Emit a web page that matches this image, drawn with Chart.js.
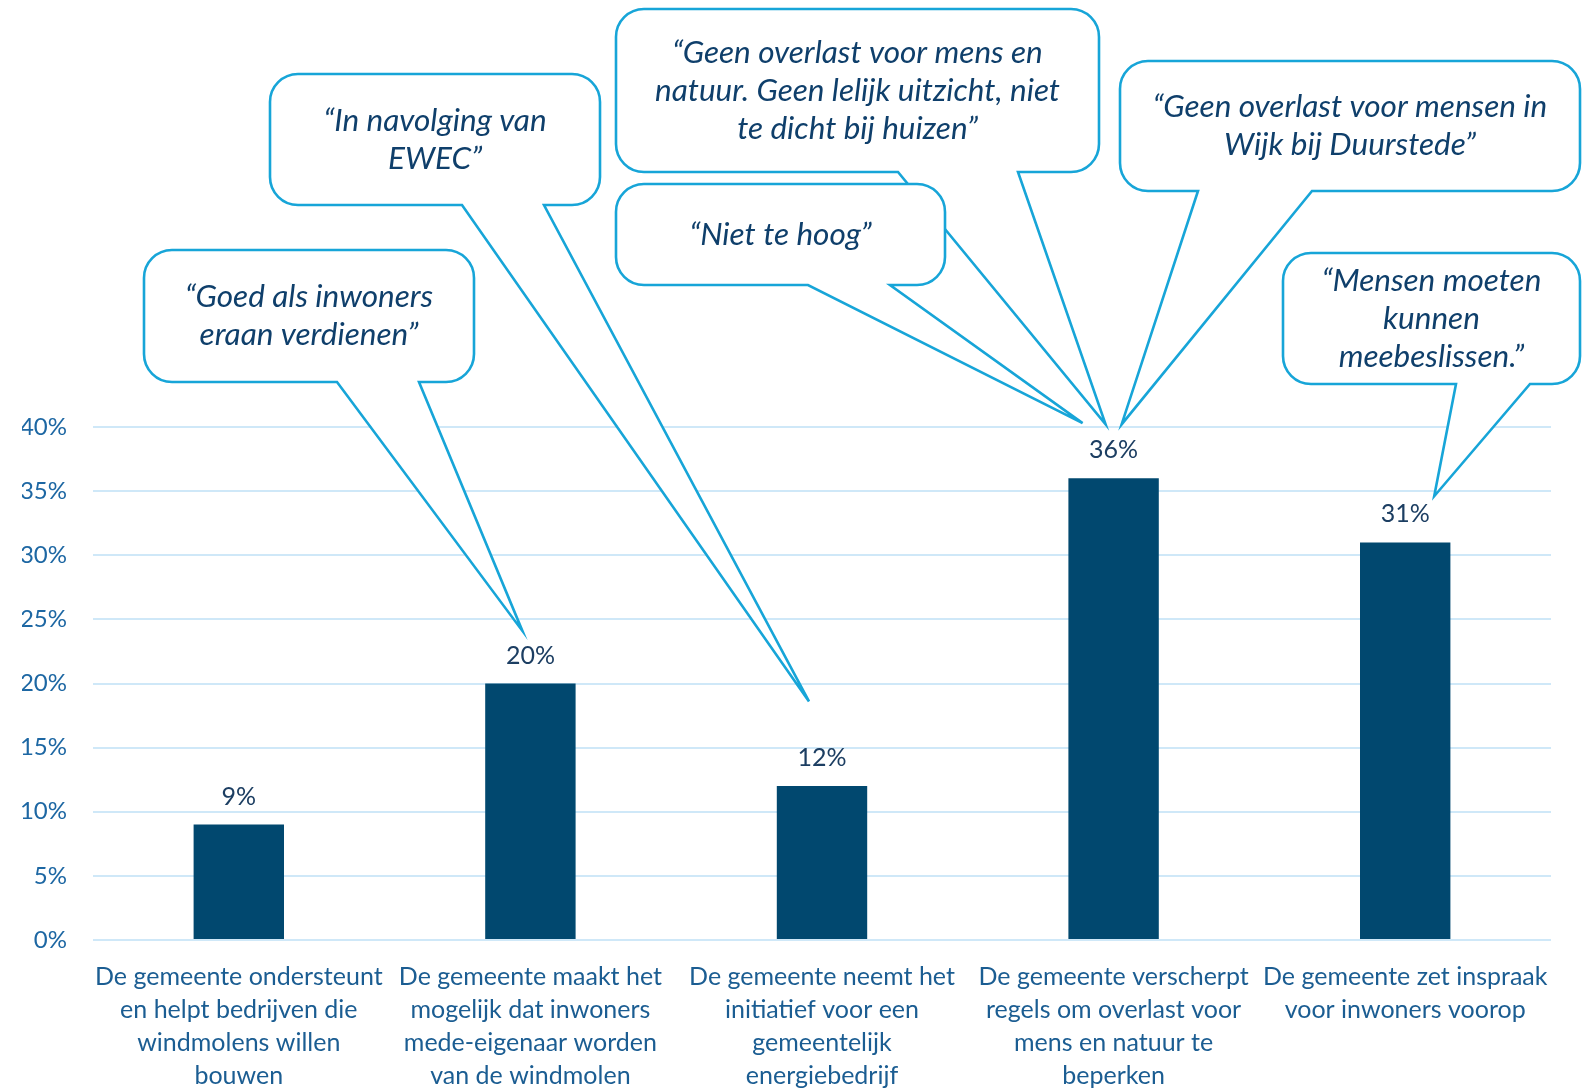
<!DOCTYPE html>
<html>
<head>
<meta charset="utf-8">
<script src="https://cdn.jsdelivr.net/npm/chart.js@4.4.0/dist/chart.umd.min.js"></script>
<style>
  html, body { margin: 0; padding: 0; background: #ffffff; }
  #wrap { width: 1590px; height: 1090px; position: relative; }
</style>
</head>
<body>
<div id="wrap"><canvas id="barChart"></canvas></div>
<script>
// data
const categories = [
    ['De gemeente ondersteunt', 'en helpt bedrijven die', 'windmolens willen', 'bouwen'],
    ['De gemeente maakt het', 'mogelijk dat inwoners', 'mede-eigenaar worden', 'van de windmolen'],
    ['De gemeente neemt het', 'initiatief voor een', 'gemeentelijk', 'energiebedrijf'],
    ['De gemeente verscherpt', 'regels om overlast voor', 'mens en natuur te', 'beperken'],
    ['De gemeente zet inspraak', 'voor inwoners voorop']
];
const values = [9, 20, 12, 36, 31];
const yMin = 0;
const yMax = 40;
const yStep = 5;

// quotes and which bar each one points at
const quotes = [
    ['\u201CGoed als inwoners', 'eraan verdienen\u201D'],
    ['\u201CIn navolging van', 'EWEC\u201D'],
    ['\u201CGeen overlast voor mens en', 'natuur. Geen lelijk uitzicht, niet', 'te dicht bij huizen\u201D'],
    ['\u201CNiet te hoog\u201D'],
    ['\u201CGeen overlast voor mensen in', 'Wijk bij Duurstede\u201D'],
    ['\u201CMensen moeten', 'kunnen', 'meebeslissen.\u201D']
];
const quoteTargets = [1, 2, 3, 3, 3, 4];
const quoteTipLevels = [24.1, 18.6, 40.2, 40.3, 40.2, 34.6];

// callout boxes (layout only): box rect + where the tail leaves the bottom edge
const calloutBoxes = [
    { x: 144, y: 250, w: 330, h: 132, t1: 337, t2: 419, dx: -8 },
    { x: 270, y: 74, w: 330, h: 131, t1: 462, t2: 544, dx: -13 },
    { x: 616, y: 9, w: 483, h: 163, t1: 898, t2: 1018, dx: -8 },
    { x: 616, y: 184, w: 329, h: 101, t1: 808, t2: 890, dx: -31 },
    { x: 1120, y: 61, w: 460, h: 130, t1: 1198, t2: 1312, dx: 8 },
    { x: 1283, y: 253, w: 297, h: 131, t1: 1456, t2: 1530, dx: 29 }
];

const FONT = 'Lato, "Noto Sans", sans-serif';

const valueLabels = {
    id: 'valueLabels',
    afterDatasetsDraw(chart) {
        const ctx = chart.ctx;
        const meta = chart.getDatasetMeta(0);
        ctx.save();
        ctx.font = '25px ' + FONT;
        ctx.fillStyle = '#1c3e62';
        ctx.textAlign = 'center';
        ctx.textBaseline = 'middle';
        meta.data.forEach((bar, i) => {
            ctx.fillText(values[i] + '%', bar.x, bar.y - 28);
        });
        ctx.restore();
    }
};

function calloutPath(ctx, b, tipX, tipY) {
    const r = 28;
    const x = b.x, y = b.y, w = b.w, h = b.h;
    ctx.beginPath();
    ctx.moveTo(x + r, y);
    ctx.lineTo(x + w - r, y);
    ctx.arcTo(x + w, y, x + w, y + r, r);
    ctx.lineTo(x + w, y + h - r);
    ctx.arcTo(x + w, y + h, x + w - r, y + h, r);
    ctx.lineTo(b.t2, y + h);
    ctx.lineTo(tipX, tipY);
    ctx.lineTo(b.t1, y + h);
    ctx.lineTo(x + r, y + h);
    ctx.arcTo(x, y + h, x, y + h - r, r);
    ctx.lineTo(x, y + r);
    ctx.arcTo(x, y, x + r, y, r);
    ctx.closePath();
}

const callouts = {
    id: 'callouts',
    afterDraw(chart) {
        const ctx = chart.ctx;
        const xs = chart.scales.x;
        const ys = chart.scales.y;
        ctx.save();
        quotes.forEach((lines, i) => {
            const b = calloutBoxes[i];
            const tipX = xs.getPixelForValue(quoteTargets[i]) + b.dx;
            const tipY = ys.getPixelForValue(quoteTipLevels[i]);
            calloutPath(ctx, b, tipX, tipY);
            ctx.fillStyle = '#ffffff';
            ctx.fill();
            ctx.lineWidth = 2.6;
            ctx.strokeStyle = '#17a5d8';
            ctx.lineJoin = 'miter';
            ctx.stroke();

            ctx.font = 'italic 31.5px ' + FONT;
            ctx.fillStyle = '#0f3f6b';
            ctx.textAlign = 'center';
            ctx.textBaseline = 'middle';
            const lh = 38;
            const cy = b.y + b.h / 2 - (lines.length - 1) * lh / 2;
            lines.forEach((t, k) => {
                ctx.fillText(t, b.x + b.w / 2, cy + k * lh);
            });
        });
        ctx.restore();
    }
};

const ctx = document.getElementById('barChart').getContext('2d');
const myChart = new Chart(ctx, {
    type: 'bar',
    data: {
        labels: categories,
        datasets: [{
            data: values,
            backgroundColor: '#01486f',
            categoryPercentage: 1,
            barPercentage: 0.31
        }]
    },
    options: {
        responsive: true,
        maintainAspectRatio: false,
        animation: false,
        layout: { padding: { left: 22, right: 39, top: 427, bottom: 0 } },
        plugins: {
            legend: { display: false },
            tooltip: { enabled: false }
        },
        scales: {
            x: {
                grid: { display: false, drawTicks: false },
                border: { display: false },
                ticks: {
                    color: '#1b5d92',
                    font: { family: FONT, size: 25, lineHeight: 1.32 },
                    maxRotation: 0,
                    autoSkip: false,
                    padding: 20
                },
                afterFit(scale) {
                    scale.paddingLeft = 0;
                    scale.paddingRight = 0;
                    scale.height = 150;
                }
            },
            y: {
                min: yMin,
                max: yMax,
                border: { display: false },
                grid: { color: '#cfe8f8', lineWidth: 2, drawTicks: false },
                ticks: {
                    stepSize: yStep,
                    color: '#1d67a3',
                    font: { family: FONT, size: 24 },
                    padding: 26,
                    callback: v => v + '%'
                },
                afterFit(scale) {
                    scale.width = 71;
                }
            }
        }
    },
    plugins: [valueLabels, callouts]
});
</script>
</body>
</html>
